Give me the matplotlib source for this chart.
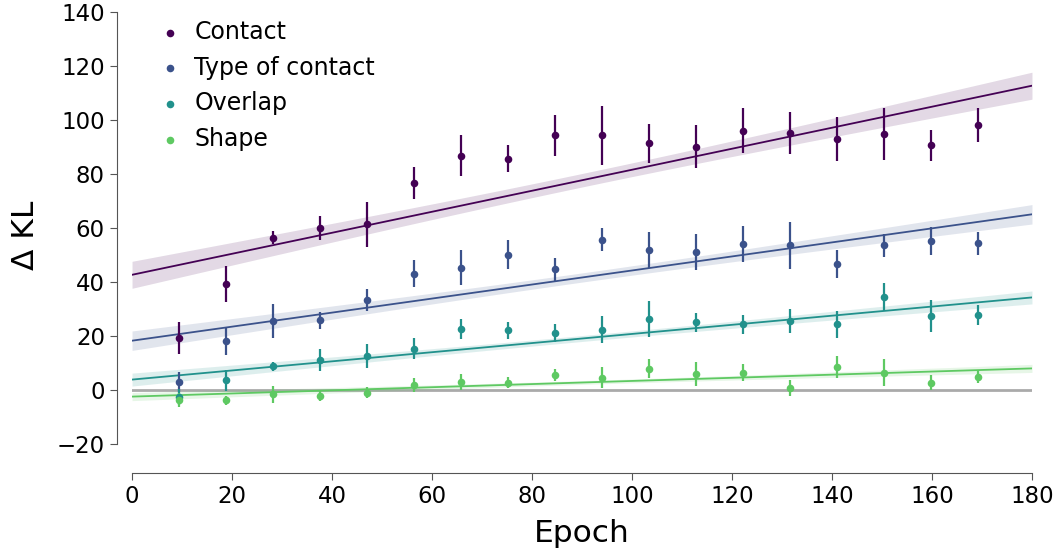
import numpy as np
import matplotlib.pyplot as plt

# Epochs at which the model was evaluated
epochs = [9.4, 18.8, 28.2, 37.6, 47.0, 56.4, 65.8, 75.2, 84.6,
          94.0, 103.4, 112.8, 122.2, 131.6, 141.0, 150.4, 159.8, 169.2]

categories = ['Contact', 'Type of contact', 'Overlap', 'Shape']
colors = ['#440154', '#3b528b', '#21918c', '#5ec962']

contact_mean = [19.4, 39.3, 56.4, 59.9, 61.4, 76.8, 86.8, 85.7, 94.3,
                94.3, 91.4, 90.1, 96.0, 95.2, 93.1, 94.7, 90.7, 98.1]
contact_err = [6.0, 6.7, 2.4, 4.4, 8.4, 6.0, 7.7, 5.0, 7.7,
               11.0, 7.3, 8.0, 8.3, 7.6, 8.1, 9.6, 5.8, 6.4]

type_mean = [3.0, 18.1, 25.6, 25.8, 33.3, 43.0, 45.4, 50.1, 44.7,
             55.7, 51.9, 51.0, 54.1, 53.6, 46.8, 53.6, 55.2, 54.4]
type_err = [3.6, 5.2, 6.4, 3.1, 4.0, 5.0, 6.3, 5.4, 4.3,
            4.2, 6.6, 6.7, 6.6, 8.8, 5.2, 4.3, 5.3, 4.3]

overlap_mean = [-2.5, 3.6, 8.8, 11.1, 12.6, 15.4, 22.6, 22.1, 21.1,
                22.3, 26.4, 25.1, 24.4, 25.6, 24.3, 34.6, 27.3, 27.8]
overlap_err = [3.0, 4.0, 1.6, 4.0, 4.3, 4.0, 3.8, 3.2, 3.4,
               5.0, 6.6, 3.6, 3.5, 4.6, 5.1, 5.2, 5.9, 3.8]

shape_mean = [-3.7, -3.8, -1.6, -2.1, -1.0, 1.9, 3.0, 2.8, 5.6,
              4.6, 8.0, 5.9, 6.5, 0.9, 8.5, 6.5, 2.8, 4.9]
shape_err = [2.5, 1.7, 3.3, 1.9, 2.1, 2.6, 3.0, 2.0, 2.3,
             3.8, 3.5, 4.4, 3.1, 2.9, 4.1, 5.0, 2.9, 2.4]

# Linear fit and its confidence band half widths
fit_intercept = [42.7, 18.3, 3.9, -2.4]
fit_slope = [0.389, 0.260, 0.169, 0.058]
ci_edge = [5.0, 3.6, 2.4, 1.5]
ci_mid = [2.5, 1.7, 1.1, 0.7]

means = [contact_mean, type_mean, overlap_mean, shape_mean]
errs = [contact_err, type_err, overlap_err, shape_err]

fig = plt.figure(figsize=(10.58, 5.54), dpi=100)
ax = fig.add_axes([0.1248, 0.1715, 0.8506, 0.8068])

xs = np.linspace(0, 180, 200)
ax.axhline(0, color='#aaaaaa', lw=2, zorder=1)

for i, name in enumerate(categories):
    c = colors[i]
    line = fit_intercept[i] + fit_slope[i] * xs
    hw = np.sqrt(ci_mid[i] ** 2 + (ci_edge[i] ** 2 - ci_mid[i] ** 2) * ((xs - 90) / 90) ** 2)
    ax.fill_between(xs, line - hw, line + hw, color=c, alpha=0.15, lw=0, zorder=2)
    ax.plot(xs, line, color=c, lw=1.3, zorder=3)
    ax.errorbar(epochs, means[i], yerr=errs[i], fmt='none', ecolor=c, elinewidth=1.6, zorder=4)
    ax.scatter(epochs, means[i], s=30, color=c, zorder=5, label=name, linewidths=0)

ax.set_xlim(0, 180)
ax.set_ylim(-25.5, 140)
ax.set_xticks(range(0, 181, 20))
ax.set_yticks(range(-20, 141, 20))

for side in ['top', 'right']:
    ax.spines[side].set_visible(False)
ax.spines['left'].set_position(('outward', 11))
ax.spines['bottom'].set_position(('outward', 10))
ax.spines['left'].set_bounds(-20, 140)
ax.spines['bottom'].set_bounds(0, 180)
for side in ['left', 'bottom']:
    ax.spines[side].set_color('#555555')
ax.tick_params(labelsize=16.5, colors='#555555', labelcolor='black', length=5)

ax.set_xlabel('Epoch', fontsize=22.5, labelpad=8)
ax.set_ylabel('Δ KL', fontsize=22.5, labelpad=12)

ax.legend(loc='upper left', bbox_to_anchor=(0.0, 1.03), frameon=False, fontsize=17,
          handletextpad=0.3, handlelength=1.43, labelspacing=0.5)

fig.savefig('out.png', dpi=100)
